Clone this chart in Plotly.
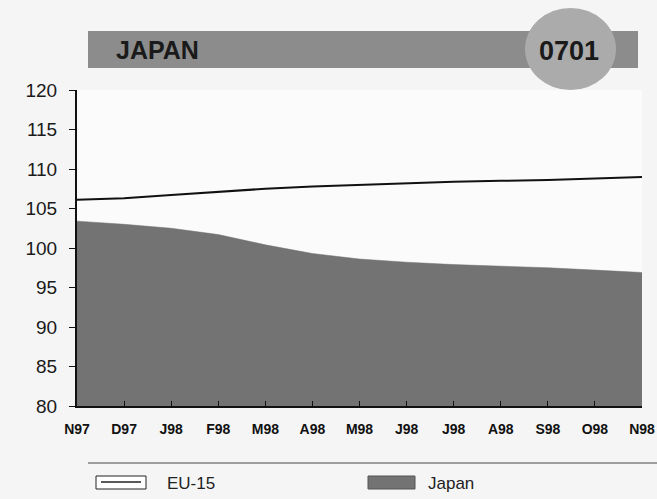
import plotly.graph_objects as go

months = ['N97', 'D97', 'J98', 'F98', 'M98', 'A98', 'M98', 'J98', 'J98', 'A98', 'S98', 'O98', 'N98']
eu15 = [106.1, 106.3, 106.7, 107.1, 107.5, 107.8, 108.0, 108.2, 108.4, 108.5, 108.6, 108.8, 109.0]
japan = [103.4, 103.0, 102.5, 101.7, 100.4, 99.3, 98.6, 98.2, 97.9, 97.7, 97.5, 97.2, 96.9]
y_ticks = [80, 85, 90, 95, 100, 105, 110, 115, 120]

W, H = 657, 499
L, R, T, B = 77, 15, 90, 93
FONT = 'Liberation Sans, Arial, sans-serif'


def px_x(x):
    return (x - L) / (W - L - R)


def px_y(y):
    return (H - B - y) / (H - T - B)


x = list(range(len(months)))

fig = go.Figure()
fig.add_trace(go.Scatter(x=x, y=japan, mode='lines', fill='tozeroy',
                         line=dict(color='#6f6f6f', width=0.5), fillcolor='#737373',
                         name='Japan', showlegend=False))
fig.add_trace(go.Scatter(x=x, y=eu15, mode='lines', line=dict(color='#111111', width=2),
                         name='EU-15', showlegend=False))

# title bar and badge
fig.add_shape(type='rect', xref='paper', yref='paper',
              x0=px_x(88), x1=px_x(638), y0=px_y(68), y1=px_y(31),
              fillcolor='#8c8c8c', line=dict(width=0), layer='above')
fig.add_shape(type='circle', xref='paper', yref='paper',
              x0=px_x(525), x1=px_x(616), y0=px_y(90), y1=px_y(8),
              fillcolor='#ababab', line=dict(width=0), layer='above')
fig.add_annotation(xref='paper', yref='paper', x=px_x(114), y=px_y(50),
                   xanchor='left', yanchor='middle',
                   text='<b>JAPAN</b>', showarrow=False,
                   font=dict(family=FONT, size=25, color='#1a1a1a'))
fig.add_annotation(xref='paper', yref='paper', x=px_x(569), y=px_y(51),
                   xanchor='center', yanchor='middle',
                   text='<b>0701</b>', showarrow=False,
                   font=dict(family=FONT, size=27, color='#1a1a1a'))

# legend
fig.add_shape(type='line', xref='paper', yref='paper',
              x0=px_x(88), x1=px_x(657), y0=px_y(463), y1=px_y(463),
              line=dict(color='#444444', width=1))
fig.add_shape(type='rect', xref='paper', yref='paper',
              x0=px_x(96), x1=px_x(146), y0=px_y(489), y1=px_y(476),
              fillcolor='#ffffff', line=dict(color='#222222', width=1))
fig.add_shape(type='line', xref='paper', yref='paper',
              x0=px_x(101), x1=px_x(141), y0=px_y(482), y1=px_y(482),
              line=dict(color='#222222', width=1.5))
fig.add_shape(type='rect', xref='paper', yref='paper',
              x0=px_x(368), x1=px_x(415), y0=px_y(489), y1=px_y(476),
              fillcolor='#737373', line=dict(color='#555555', width=1))
fig.add_annotation(xref='paper', yref='paper', x=px_x(165), y=px_y(483),
                   xanchor='left', yanchor='middle',
                   text='EU-15', showarrow=False,
                   font=dict(family=FONT, size=17, color='#222222'))
fig.add_annotation(xref='paper', yref='paper', x=px_x(426), y=px_y(483),
                   xanchor='left', yanchor='middle',
                   text='Japan', showarrow=False,
                   font=dict(family=FONT, size=17, color='#222222'))

fig.update_layout(
    width=W, height=H,
    margin=dict(l=L, r=R, t=T, b=B, autoexpand=False),
    paper_bgcolor='#f5f5f5', plot_bgcolor='#fbfbfb',
    xaxis=dict(range=[0, 12], tickvals=x, ticktext=months, showgrid=False, zeroline=False,
               showline=True, linecolor='#111111', linewidth=2, ticks='inside', ticklen=5,
               tickcolor='#111111', ticklabelstandoff=9, automargin=False,
               tickfont=dict(family=FONT, size=14, color='#111111', weight='bold')),
    yaxis=dict(range=[80, 120], tickvals=y_ticks, showgrid=False, zeroline=False,
               showline=True, linecolor='#111111', linewidth=2, ticks='outside', ticklen=6,
               tickcolor='#111111', ticklabelstandoff=8, automargin=False,
               tickfont=dict(family=FONT, size=19, color='#1a1a1a')),
)

# drop the browser's default page margin so the figure fills the window
fig.write_html('out.html', config={'displayModeBar': False},
               post_script="document.body.style.margin='0';")
